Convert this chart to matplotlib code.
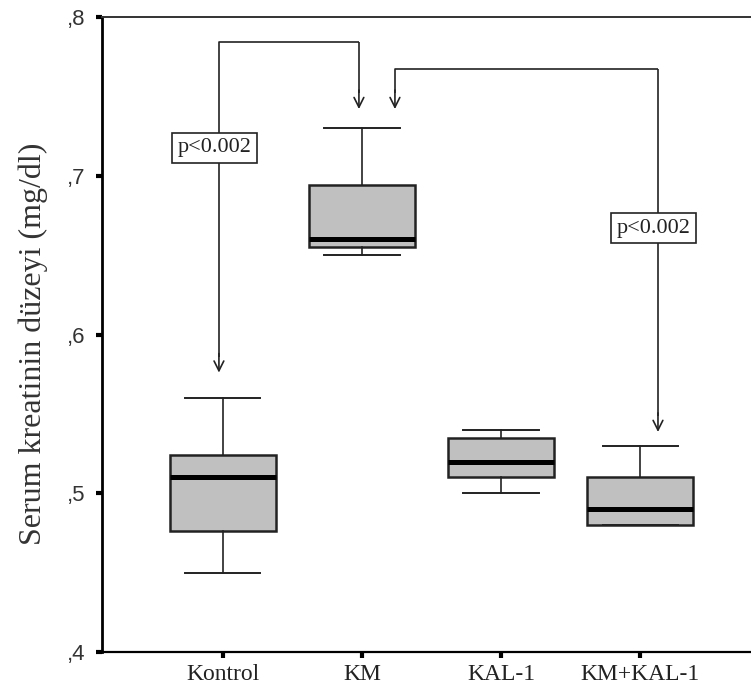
import matplotlib
matplotlib.use("Agg")
import matplotlib.pyplot as plt

# group labels and box statistics (mg/dl)
groups = ["Kontrol", "KM", "KAL-1", "KM+KAL-1"]
whis_low = [0.450, 0.650, 0.500, 0.480]
q1 = [0.476, 0.655, 0.510, 0.480]
medians = [0.510, 0.660, 0.520, 0.490]
q3 = [0.524, 0.694, 0.535, 0.510]
whis_high = [0.560, 0.730, 0.540, 0.530]

y_ticks = [0.4, 0.5, 0.6, 0.7, 0.8]
y_ticklabels = [",4", ",5", ",6", ",7", ",8"]
p_text = "p<0.002"

W, H = 751, 689
fig = plt.figure(figsize=(W / 100, H / 100), dpi=100)
ax = fig.add_axes([102 / W, 1 - 652 / H, 659 / W, 635 / H])

stats = []
for i, g in enumerate(groups):
    stats.append(dict(label=g, whislo=whis_low[i], q1=q1[i], med=medians[i],
                      q3=q3[i], whishi=whis_high[i], fliers=[]))

pos = list(range(1, len(groups) + 1))
ax.bxp(stats, positions=pos, widths=0.76, capwidths=0.54, patch_artist=True,
       showfliers=False,
       boxprops=dict(facecolor="#c0c0c0", edgecolor="#222222", linewidth=1.8),
       medianprops=dict(color="black", linewidth=3.6, solid_capstyle="butt"),
       whiskerprops=dict(color="#222222", linewidth=1.2),
       capprops=dict(color="#222222", linewidth=1.4))

ax.set_xlim(0.13, 4.87)
ax.set_ylim(0.4, 0.8)
ax.set_yticks(y_ticks)
ax.set_yticklabels(y_ticklabels, fontfamily="Liberation Sans", fontsize=16,
                   color="#333333")
ax.set_xticks(pos)
ax.set_xticklabels(groups, fontfamily="Liberation Serif", fontsize=17,
                   color="#222222")
ax.tick_params(axis="both", direction="out", length=4, width=3, color="black")
ax.tick_params(axis="y", pad=8)
ax.tick_params(axis="x", pad=5)

ax.spines["right"].set_visible(False)
ax.spines["left"].set_linewidth(2.0)
ax.spines["bottom"].set_linewidth(1.6)
ax.spines["top"].set_linewidth(1.4)
ax.spines["top"].set_color("#333333")

fig.text(33 / W, 1 - 344 / H, "Serum kreatinin düzeyi (mg/dl)", rotation=90,
         ha="center", va="center", fontfamily="Liberation Serif", fontsize=23,
         color="#333333")

# significance brackets: (x start, y start tip, x end, y end tip, top y)
arrow_kw = dict(arrowstyle="->,head_length=0.7,head_width=0.35", color="#222222",
                lw=1.2, shrinkA=0, shrinkB=0)
line_kw = dict(color="#222222", lw=1.2, solid_capstyle="butt")
brackets = [(0.971, 0.576, 1.978, 0.742, 0.784),
            (2.237, 0.742, 4.129, 0.5386, 0.767)]
for x0, y0, x1, y1, yt in brackets:
    ax.plot([x0, x0, x1], [y0 + 0.01, yt, yt], **line_kw)
    ax.annotate("", xy=(x0, y0), xytext=(x0, y0 + 0.012), arrowprops=arrow_kw)
    ax.plot([x1, x1], [yt, y1 + 0.01], **line_kw)
    ax.annotate("", xy=(x1, y1), xytext=(x1, y1 + 0.012), arrowprops=arrow_kw)

box_kw = dict(boxstyle="square,pad=0.25", facecolor="white", edgecolor="#222222",
              linewidth=1.2)
ax.text(0.94, 0.7175, p_text, ha="center", va="center",
        fontfamily="Liberation Serif", fontsize=16, color="#222222", bbox=box_kw)
ax.text(4.094, 0.667, p_text, ha="center", va="center",
        fontfamily="Liberation Serif", fontsize=16, color="#222222", bbox=box_kw)

fig.savefig("out.png", dpi=100)
